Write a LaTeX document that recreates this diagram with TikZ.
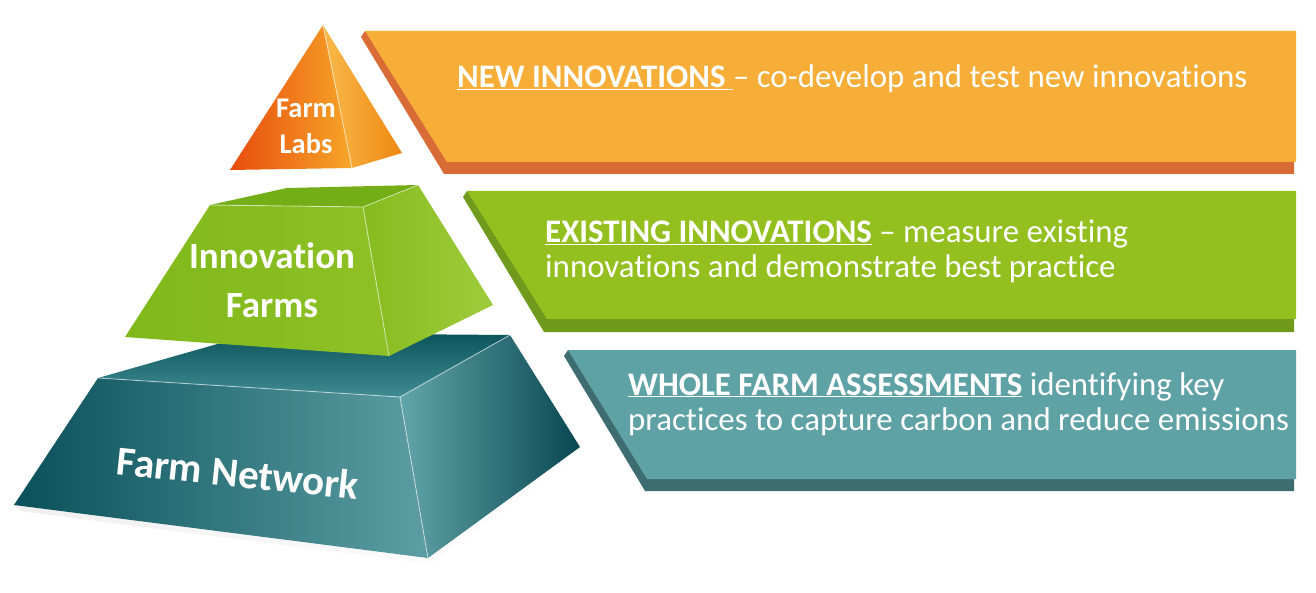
\documentclass[tikz,border=0pt]{standalone}
\usepackage{fontspec}
\setmainfont{Carlito}[Ligatures=NoCommon]
\definecolor{orFace}{HTML}{F6AE38}
\definecolor{orSide}{HTML}{D96C36}
\definecolor{grFace}{HTML}{93C01F}
\definecolor{grSide}{HTML}{6F9A1C}
\definecolor{tlFace}{HTML}{5FA2A6}
\definecolor{tlSide}{HTML}{3E6D71}
\definecolor{tTopBack}{RGB}{12,84,92}
\definecolor{tTopFront}{RGB}{64,140,146}
\definecolor{tFrL}{RGB}{10,80,90}
\definecolor{tFrM}{RGB}{32,118,126}
\definecolor{tFrR}{RGB}{92,158,163}
\definecolor{tRtL}{RGB}{98,165,170}
\definecolor{tRtR}{RGB}{8,70,80}
\definecolor{gTop}{RGB}{116,174,22}
\definecolor{gFrL}{RGB}{128,184,26}
\definecolor{gFrR}{RGB}{142,193,38}
\definecolor{gRtL}{RGB}{134,188,30}
\definecolor{gRtR}{RGB}{158,204,60}
\definecolor{oLfL}{RGB}{232,76,14}
\definecolor{oLfR}{RGB}{247,166,40}
\definecolor{oRtL}{RGB}{249,186,76}
\definecolor{oRtR}{RGB}{238,136,16}
\tikzset{
  btext/.style={text=white, inner sep=0pt, font=\fontsize{32.9}{35}\selectfont, align=left},
  ptext/.style={text=white, inner sep=0pt, align=center},
  edgehl/.style={draw=white, draw opacity=0.55, line width=0.9pt},
}
\begin{document}
\begin{tikzpicture}[x=1pt,y=-1pt]
\useasboundingbox (0,0) rectangle (1316,593);
\fill[white] (0,0) rectangle (1316,593);

% ---- banners ----
\fill[orSide] (365,31) -- (361,37) -- (444,174) -- (1294,174) -- (1294,162) -- cycle;
\fill[orFace] (365,31) -- (1296,31) -- (1296,162) -- (447,162) -- cycle;
\fill[grSide] (467,191) -- (463,197) -- (544,332) -- (1294,332) -- (1294,319) -- cycle;
\fill[grFace] (467,191) -- (1296,191) -- (1296,319) -- (547,319) -- cycle;
\fill[tlSide] (568,350) -- (564,356) -- (645,491) -- (1294,491) -- (1294,479) -- cycle;
\fill[tlFace] (568,350) -- (1296,350) -- (1296,479) -- (647,479) -- cycle;

% ---- bottom frustum (teal) ----
\path[left color=black!6, right color=white] (20,511) -- (430,564) -- (584,451) -- (580,447) -- (428,558) -- (14,505) -- cycle;
\path[top color=tTopBack, bottom color=tTopFront] (98,378) -- (256,333) -- (510,335) -- (400,397) -- cycle;
\path[left color=tFrL, middle color=tFrM, right color=tFrR] (98,378) -- (400,397) -- (428,558) -- (14,505) -- cycle;
\path[left color=tRtL, right color=tRtR] (400,397) -- (510,335) -- (580,447) -- (428,558) -- cycle;
\draw[edgehl] (98,378) -- (400,397) -- (428,558);
\draw[edgehl] (400,397) -- (510,335);

% ---- middle frustum (green) ----
\fill[gTop] (210,205) -- (287,188) -- (418,185) -- (363,207) -- cycle;
\path[left color=gFrL, right color=gFrR] (210,205) -- (363,207) -- (389,356) -- (125,337) -- cycle;
\path[left color=gRtL, right color=gRtR] (363,207) -- (418,185) -- (493,305) -- (389,356) -- cycle;
\draw[edgehl] (210,205) -- (363,207) -- (389,356);
\draw[edgehl] (363,207) -- (418,185);

% ---- top pyramid (orange) ----
\path[left color=oLfL, right color=oLfR] (230,170) -- (323,25) -- (352,168) -- cycle;
\path[left color=oRtL, right color=oRtR] (352,168) -- (323,25) -- (402,153) -- cycle;
\draw[edgehl] (323,25) -- (352,168);

% ---- pyramid labels ----
\node[ptext, font=\fontsize{28.5}{36}\bfseries\selectfont, anchor=base] (labs) at (306,154) {Farm\\Labs};
\node[ptext, font=\fontsize{37}{48}\bfseries\selectfont, anchor=base] (innov) at (272,317) {Innovation\\Farms};
\node[ptext, font=\fontsize{41}{45}\bfseries\selectfont, rotate=-6] (network) at (238,473) {Farm Network};

% ---- banner texts ----
\node[btext, anchor=base west] (newinn) at (457,88) {\underline{\textbf{NEW INNOVATIONS }}– co-develop and test new innovations};
\node[btext, anchor=base west] (exinn) at (545,278) {\underline{\textbf{EXISTING INNOVATIONS}} – measure existing\\innovations and demonstrate best practice};
\node[btext, anchor=base west] (whole) at (628,430) {\underline{\textbf{WHOLE FARM ASSESSMENTS}} identifying key\\practices to capture carbon and reduce emissions};
\end{tikzpicture}
\end{document}
